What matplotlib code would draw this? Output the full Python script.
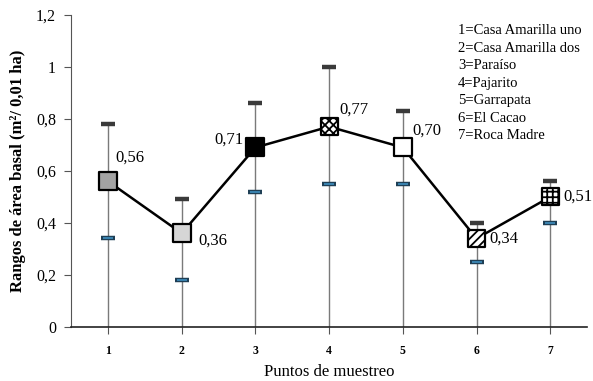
import matplotlib

matplotlib.use("Agg")
import matplotlib.pyplot as plt
from matplotlib.ticker import FuncFormatter


puntos = [1, 2, 3, 4, 5, 6, 7]
medias = [0.56, 0.36, 0.69, 0.77, 0.69, 0.34, 0.50]
etiquetas = ["0,56", "0,36", "0,71", "0,77", "0,70", "0,34", "0,51"]
maximos = [0.78, 0.49, 0.86, 1.00, 0.83, 0.40, 0.56]
minimos = [0.34, 0.18, 0.52, 0.55, 0.55, 0.25, 0.40]
sitios = ["1=Casa Amarilla uno", "2=Casa Amarilla dos", "3=Paraíso", "4=Pajarito",
          "5=Garrapata", "6=El Cacao", "7=Roca Madre"]

fills = ["#a3a3a3", "#d6d6d6", "#000000", "white", "white", "white", "white"]
hatches = [None, None, None, "xxxx", None, "////", "+++"]
# label offsets in pixels (dx, dy, ha)
offs = [(7, 24, "left"), (17, -7, "left"), (-12, 8, "right"), (10, 17, "left"),
        (10, 17, "left"), (13, 0, "left"), (13, 0, "left")]

plt.rcParams["font.family"] = ["Liberation Serif", "DejaVu Serif"]
plt.rcParams["hatch.linewidth"] = 1.3

fig = plt.figure(figsize=(5.93, 3.81), dpi=100)
ax = fig.add_axes([0.12, 0.142, 0.87, 0.819])

ax.vlines(puntos, 0, maximos, color="#7a7a7a", lw=1.0, zorder=1)
ax.scatter(puntos, maximos, marker="_", s=110, lw=3.2, color="#3a3a3a", zorder=2)
ax.scatter(puntos, minimos, marker="_", s=110, lw=3.2, color="#1f3f55", zorder=2)
ax.scatter(puntos, minimos, marker="_", s=60, lw=1.2, color="#3f8fbf", zorder=2)

ax.plot(puntos, medias, color="black", lw=1.8, zorder=3)
for x, y, f, h in zip(puntos, medias, fills, hatches):
    ax.scatter([x], [y], marker="s", s=150, facecolor=f, edgecolor="black",
               lw=1.6, hatch=h, zorder=4)

for x, y, t, (dx, dy, ha) in zip(puntos, medias, etiquetas, offs):
    ax.annotate(t, (x, y), xytext=(dx, dy), textcoords="offset pixels",
                ha=ha, va="center", fontsize=12)

ax.text(0.75, 0.97, "\n".join(sitios), transform=ax.transAxes, ha="left",
        va="top", fontsize=10.5, linespacing=1.45)

ax.set_xlim(0.5, 7.5)
ax.set_ylim(0, 1.2)
ax.set_yticks([0, 0.2, 0.4, 0.6, 0.8, 1.0, 1.2])
ax.yaxis.set_major_formatter(FuncFormatter(lambda v, p: f"{v:g}".replace(".", ",")))
ax.set_xticks(puntos)
ax.tick_params(axis="y", labelsize=11.5, length=5, color="#555555", pad=6)
ax.tick_params(axis="x", labelsize=8.5, length=5, color="#555555", pad=8)
for lab in ax.get_xticklabels():
    lab.set_fontweight("bold")
for s in ["top", "right"]:
    ax.spines[s].set_visible(False)
ax.spines["left"].set_color("#555555")
ax.spines["bottom"].set_color("#222222")
ax.spines["bottom"].set_linewidth(1.2)

ax.set_xlabel("Puntos de muestreo", fontsize=12, labelpad=5)
ax.set_ylabel("Rangos de área basal (m²/ 0,01 ha)", fontsize=12, fontweight="bold",
              labelpad=7)

fig.savefig("out.png", dpi=100)
